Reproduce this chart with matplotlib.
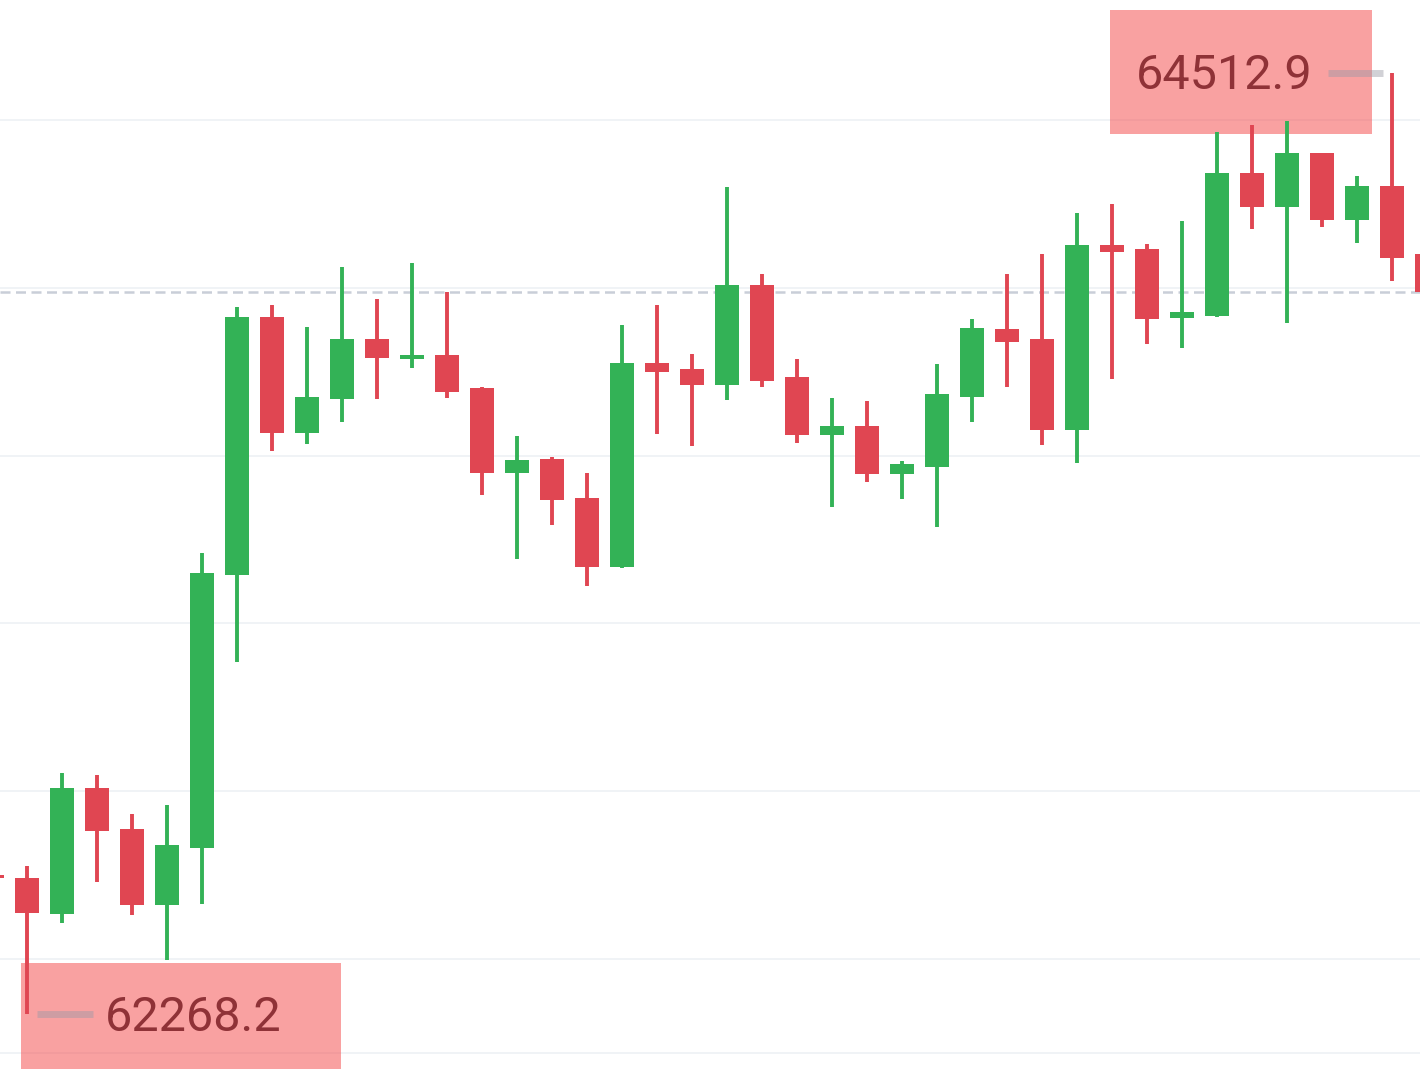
import matplotlib.pyplot as plt
from matplotlib.patches import Rectangle

plt.rcParams['font.family'] = ['Roboto', 'DejaVu Sans']

# K线数据
opens = [62600.0, 62593.1, 62507.3, 62807.6, 62709.9, 62528.7, 62664.6, 63315.4,
         63930.4, 63653.9, 63734.9, 63877.9, 63831.0, 63839.8, 63761.1, 63558.5,
         63591.9, 63498.9, 63334.4, 63820.7, 63806.4, 63768.3, 64006.7, 63787.4,
         63649.1, 63670.6, 63556.1, 63572.8, 63739.7, 63901.8, 63877.9, 63661.0,
         64102.0, 64092.5, 63928.0, 63932.8, 64273.7, 64192.6, 64321.3, 64161.6,
         64242.7, 64080.6]
closes = [62593.1, 62509.6, 62807.6, 62705.1, 62528.7, 62671.7, 63320.1, 63930.4,
          63653.9, 63739.7, 63877.9, 63832.7, 63841.0, 63751.6, 63558.5, 63589.5,
          63494.2, 63334.4, 63820.7, 63799.3, 63768.3, 64006.7, 63777.8, 63649.1,
          63670.6, 63556.1, 63580.0, 63746.8, 63904.2, 63870.8, 63661.0, 64102.0,
          64085.3, 63925.6, 63942.0, 64273.7, 64192.6, 64321.3, 64161.6, 64242.7,
          64071.0, 63990.0]
highs = [62612.0, 62621.7, 62843.4, 62838.6, 62745.6, 62767.1, 63367.8, 63954.2,
         63959.0, 63906.6, 64049.6, 63973.3, 64059.1, 63990.0, 63763.5, 63646.7,
         63596.7, 63558.5, 63911.3, 63959.0, 63842.2, 64240.3, 64032.9, 63830.3,
         63737.3, 63730.2, 63587.1, 63818.4, 63925.6, 64032.9, 64080.6, 64178.3,
         64199.8, 64104.4, 64159.2, 64371.4, 64388.1, 64397.6, 64322.0, 64266.5,
         64512.9, 64092.0]
lows = [62580.0, 62268.2, 62485.8, 62583.5, 62504.9, 62397.6, 62531.1, 63108.0,
        63611.0, 63627.6, 63680.1, 63734.9, 63808.8, 63737.3, 63506.1, 63353.5,
        63434.6, 63289.1, 63332.0, 63651.5, 63622.9, 63732.5, 63763.5, 63630.0,
        63477.5, 63537.1, 63496.5, 63429.8, 63680.1, 63763.5, 63625.3, 63582.4,
        63782.6, 63866.0, 63856.5, 63930.4, 64140.2, 63916.1, 64144.9, 64106.8,
        64016.2, 63975.0]
grid_levels = [62400, 62800, 63200, 63600, 64000, 64400]

up_color = '#33B256'
down_color = '#E04652'

fig = plt.figure(figsize=(14.2, 10.8), dpi=100)
ax = fig.add_axes([0, 27 / 1080, 1, 1053 / 1080])

for i, (o, h, l, c) in enumerate(zip(opens, highs, lows, closes)):
    col = up_color if c >= o else down_color
    ax.vlines(i, l, h, color=col, linewidth=2.8, zorder=3)
    ax.bar(i, max(abs(c - o), 8), bottom=min(o, c), width=0.667,
           color=col, linewidth=0, zorder=3)

# 当前价虚线
ax.axhline(closes[-1], color='#C9CED8', linewidth=1.8,
           linestyle=(0, (4, 2.2)), zorder=2)

# 最高 / 最低价标注
hi = max(highs)
hi_i = highs.index(hi)
lo = min(lows)
lo_i = lows.index(lo)

ax.add_patch(Rectangle((hi_i - 8.06, hi - 146.3), 7.49, 295.6,
                       facecolor='#F54545', alpha=0.5, linewidth=0,
                       zorder=1, clip_on=False))
ax.add_patch(Rectangle((lo_i - 0.17, lo - 130.4), 9.14, 252.6,
                       facecolor='#F54545', alpha=0.5, linewidth=0,
                       zorder=1, clip_on=False))

ax.hlines(hi, hi_i - 1.83, hi_i - 0.26, color='#9A9AA6', alpha=0.45,
          linewidth=5, zorder=4)
ax.hlines(lo, lo_i + 0.29, lo_i + 1.89, color='#9A9AA6', alpha=0.45,
          linewidth=5, zorder=4)

ax.text(hi_i - 2.26, hi - 40, f'{hi:.1f}', ha='right', va='baseline',
        fontsize=35, color='#8F3237', zorder=5)
ax.text(lo_i + 2.23, lo - 40, f'{lo:.1f}', ha='left', va='baseline',
        fontsize=35, color='#8F3237', zorder=5)

ax.set_xlim(0.2286, 40.8)
ax.set_ylim(62175.9, 64686.1)
ax.set_yticks(grid_levels)
ax.grid(axis='y', color='#EDF1F5', linewidth=1.2)
ax.set_axisbelow(True)
ax.tick_params(left=False, bottom=False, labelleft=False, labelbottom=False)
for s in ['top', 'left', 'right']:
    ax.spines[s].set_visible(False)
ax.spines['bottom'].set_color('#EDF1F5')
ax.spines['bottom'].set_linewidth(1.2)
ax.spines['bottom'].set_zorder(0.5)

fig.savefig('out.png', dpi=100)
